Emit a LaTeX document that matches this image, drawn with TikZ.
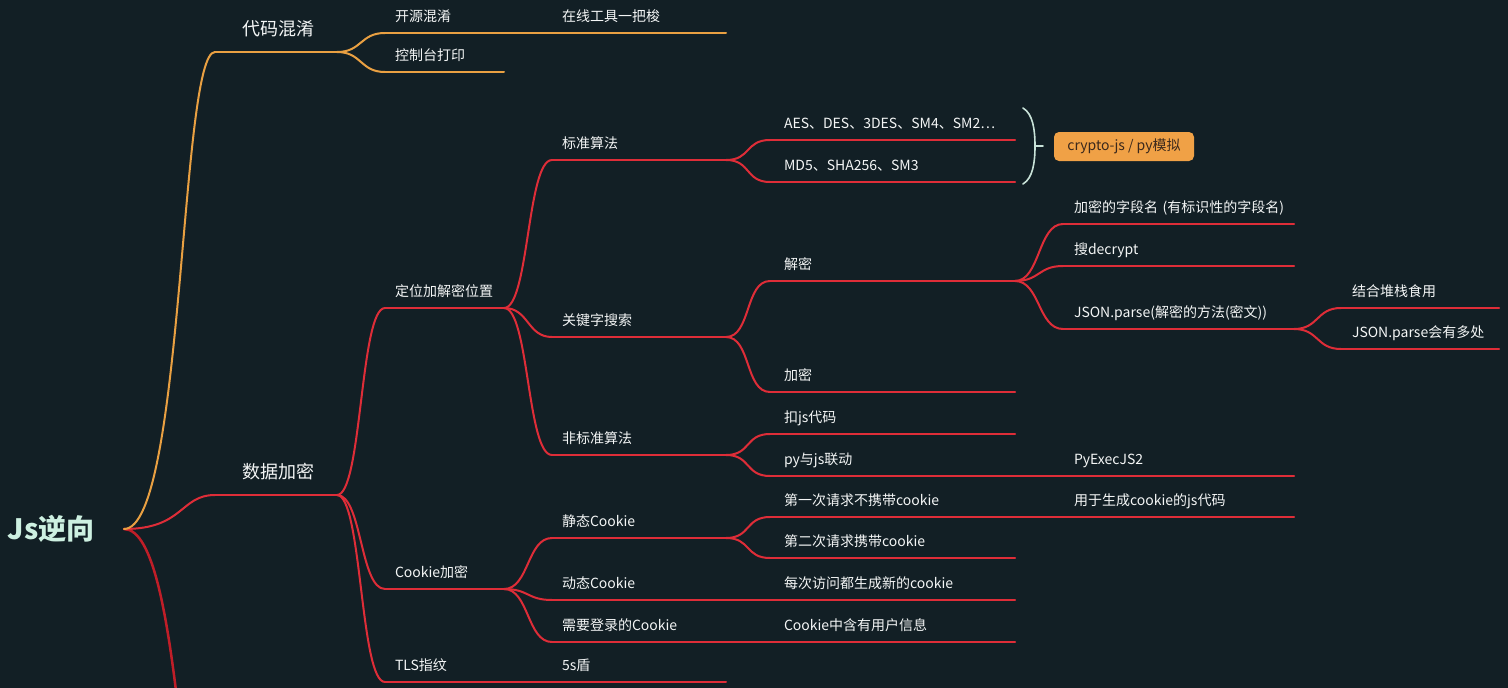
\documentclass[tikz,border=0pt]{standalone}
\usepackage{fontspec}
\setmainfont{Noto Sans CJK SC}
\usepackage{tikz}
\usetikzlibrary{calc}
\definecolor{bg}{RGB}{18,31,37}
\definecolor{orng}{RGB}{233,160,66}
\definecolor{rd}{RGB}{222,45,56}
\definecolor{darkrd}{RGB}{192,30,40}
\definecolor{txt}{RGB}{244,246,246}
\definecolor{rootc}{RGB}{205,240,225}
\definecolor{bracec}{RGB}{200,226,216}
\definecolor{tagfill}{RGB}{240,161,70}
\definecolor{tagtext}{RGB}{58,40,28}
\tikzset{
  topic/.style={anchor=south west, inner xsep=9pt, inner ysep=10.5pt, text depth=0pt,
    align=left, text=txt, font=\fontsize{14}{17}\selectfont},
  main/.style={topic, inner xsep=26pt, inner ysep=16pt, text width=68pt, font=\fontsize{18}{22}\selectfont},
  lvb/.style={topic, text width=99pt},
  lvc/.style={topic, text width=154pt},
  lvd/.style={topic, inner xsep=13pt, text width=217pt},
  lve/.style={topic, inner xsep=10pt, text width=209pt},
  lvf/.style={topic, inner xsep=10pt, text width=136pt},
  branch/.style={to path={.. controls +(#1,0) and +(-#1,0) .. (\tikztotarget)}},
  branch/.default=25,
  trunk/.style={to path={.. controls +(60,0) and +(-35,0) .. (\tikztotarget)}},
}

\begin{document}
\begin{tikzpicture}[x=1pt,y=-1pt,line width=2pt,line cap=round]
\useasboundingbox (0,0) rectangle (1508,688);
\fill[bg] (0,0) rectangle (1508,688);
\clip (0,0) rectangle (1508,688);

\node[anchor=west,inner sep=0pt,text width=115pt,text=rootc,font=\fontsize{28}{32}\selectfont\bfseries] (root) at (7,529) {Js逆向};

\node[main] (daima) at (215,52) {代码混淆};
\node[main] (shuju) at (215,495) {数据加密};
\coordinate (more) at (215,900);

\foreach \n/\y/\t in {kaiyuan/33/开源混淆, kongzhi/72/控制台打印, dingwei/308/定位加解密位置,
    cookie/589/Cookie加密, tls/682/TLS指纹}
  \node[lvb] (\n) at (385,\y) {\t};
\foreach \n/\y/\t in {zaixian/33/在线工具一把梭, biaozhun/160/标准算法, guanjian/337/关键字搜索,
    feibiao/455/非标准算法, jingtai/538/静态Cookie, dongtai/600/动态Cookie,
    denglu/642/需要登录的Cookie, dun/682/5s盾}
  \node[lvc] (\n) at (552,\y) {\t};
\foreach \n/\y/\t in {aes/140/AES、DES、3DES、SM4、SM2\dots, md5/182/MD5、SHA256、SM3, jiemi/281/解密,
    jiami/392/加密, kou/434/扣js代码, pyjs/476/py与js联动, diyici/517/第一次请求不携带cookie,
    dierci/558/第二次请求携带cookie, meici/600/每次访问都生成新的cookie, yonghu/642/Cookie中含有用户信息}
  \node[lvd] (\n) at (770,\y) {\t};
\foreach \n/\y/\t in {ziduan/224/加密的字段名~(有标识性的字段名), decrypt/266/搜decrypt,
    jsonparse/329/JSON.parse(解密的方法(密文)), pyexec/476/PyExecJS2, shengcheng/517/用于生成cookie的js代码}
  \node[lve] (\n) at (1063,\y) {\t};
\foreach \n/\y/\t in {duizhan/308/结合堆栈食用, duochu/349/JSON.parse会有多处}
  \node[lvf] (\n) at (1341,\y) {\t};

% underlines
\foreach \n in {daima,kaiyuan,kongzhi,zaixian}
  \draw[orng] (\n.south west) -- (\n.south east);
\foreach \n in {shuju,dingwei,cookie,tls,biaozhun,guanjian,feibiao,jingtai,dongtai,denglu,dun,
    aes,md5,jiemi,jiami,kou,pyjs,diyici,dierci,meici,yonghu,ziduan,decrypt,jsonparse,pyexec,
    shengcheng,duizhan,duochu}
  \draw[rd] (\n.south west) -- (\n.south east);

% links
\draw[darkrd,line width=2.5pt] (root.east) to[trunk] (more);
\draw[rd] (root.east) to[trunk] (shuju.south west);
\draw[orng] (root.east) to[trunk] (daima.south west);
\foreach \a/\b in {daima/kaiyuan, daima/kongzhi, kaiyuan/zaixian}
  \draw[orng] (\a.south east) to[branch] (\b.south west);
\foreach \a/\b in {shuju/dingwei, shuju/cookie, shuju/tls, dingwei/biaozhun, dingwei/guanjian,
    dingwei/feibiao, biaozhun/aes, biaozhun/md5, guanjian/jiemi, guanjian/jiami, jiemi/ziduan,
    jiemi/decrypt, jiemi/jsonparse, jsonparse/duizhan, jsonparse/duochu, feibiao/kou, feibiao/pyjs,
    pyjs/pyexec, cookie/jingtai, cookie/dongtai, cookie/denglu, jingtai/diyici, jingtai/dierci,
    diyici/shengcheng, dongtai/meici, denglu/yonghu, tls/dun}
  \draw[rd] (\a.south east) to[branch] (\b.south west);

% summary brace
\draw[bracec,line width=1.6pt] (1023,108) .. controls (1033,114) and (1035,130) .. (1035,146)
  .. controls (1035,162) and (1033,178) .. (1023,184) (1035,146) -- (1043,146);
\node[anchor=north west,minimum width=140pt,minimum height=29pt,inner sep=0pt,rounded corners=5pt,
  fill=tagfill,text=tagtext,font=\fontsize{14}{17}\selectfont] (crypto) at (1053,131) {crypto-js / py模拟};
\end{tikzpicture}
\end{document}
